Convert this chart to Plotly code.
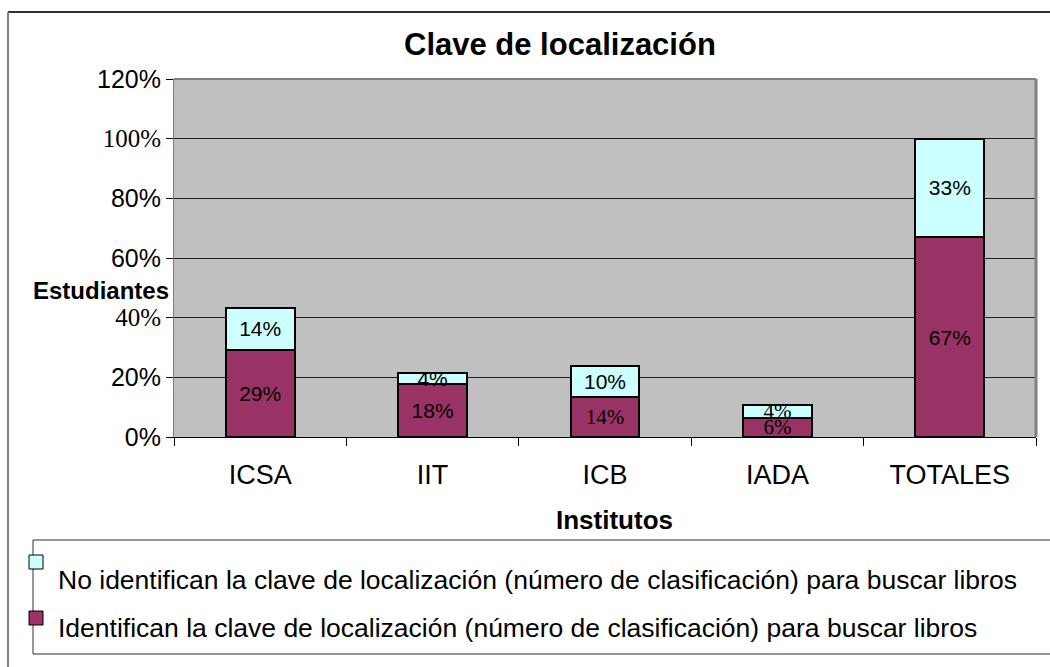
import plotly.graph_objects as go

# ---- data ----
categories = ["ICSA", "IIT", "ICB", "IADA", "TOTALES"]
series_names = [
    "No identifican la clave de localización (número de clasificación) para buscar libros",
    "Identifican la clave de localización (número de clasificación) para buscar libros",
]
identifican = [29.2, 17.9, 13.5, 6.4, 67.0]
no_identifican = [14.2, 3.6, 10.4, 4.3, 33.0]
identifican_labels = ["29%", "18%", "14%", "6%", "67%"]
no_identifican_labels = ["14%", "4%", "10%", "4%", "33%"]
y_tickvals = [0, 20, 40, 60, 80, 100, 120]
y_ticktext = ["0%", "20%", "40%", "60%", "80%", "100%", "120%"]
serif_ticks = ["40%", "100%"]
identifican_serif = [False, False, True, True, False]
no_identifican_serif = [False, False, False, True, False]

SANS = "Liberation Sans, Arial, sans-serif"
SERIF = "Liberation Serif, Times New Roman, serif"
MAROON = "#993366"
CYAN = "#CCFFFF"

W, H = 1050, 667
L, R, T, B = 174, 14, 79, 230
PW, PH = W - L - R, H - T - B


def px(xp):
    return (xp - L) / PW


def py(yp):
    return (H - B - yp) / PH


fig = go.Figure()
fig.add_trace(go.Bar(
    x=categories, y=identifican, name=series_names[1],
    marker=dict(color=MAROON, line=dict(color="black", width=2)),
    text=identifican_labels, textposition="inside", insidetextanchor="middle",
    constraintext="none",
    textfont=dict(color="black", size=21,
                  family=[SERIF if s else SANS for s in identifican_serif]),
    width=0.4, showlegend=False, hoverinfo="skip",
))
fig.add_trace(go.Bar(
    x=categories, y=no_identifican, name=series_names[0],
    marker=dict(color=CYAN, line=dict(color="black", width=2)),
    text=no_identifican_labels, textposition="inside", insidetextanchor="middle",
    constraintext="none",
    textfont=dict(color="black", size=21,
                  family=[SERIF if s else SANS for s in no_identifican_serif]),
    width=0.4, showlegend=False, hoverinfo="skip",
))

ticktext = [
    (f'<span style="font-family:Liberation Serif, Times New Roman, serif">{t}</span>'
     if t in serif_ticks else t)
    for t in y_ticktext
]

fig.update_layout(
    width=W, height=H,
    margin=dict(l=L, r=R, t=T, b=B, pad=0),
    barmode="stack",
    paper_bgcolor="white",
    plot_bgcolor="#C0C0C0",
    font=dict(family=SANS, color="black"),
    xaxis=dict(
        range=[-0.5, 4.5], showgrid=False, showline=True, linecolor="black", linewidth=1,
        ticks="outside", tickson="boundaries", ticklen=8, tickcolor="black",
        ticklabelstandoff=14,
        tickfont=dict(size=27, family=SANS), fixedrange=True,
    ),
    yaxis=dict(
        range=[0, 120], tickvals=y_tickvals, ticktext=ticktext,
        showgrid=True, gridcolor="#202020", gridwidth=1, zeroline=False,
        showline=True, linecolor="#808080", linewidth=1,
        ticks="outside", ticklen=7, tickcolor="black",
        tickfont=dict(size=25, family=SANS), fixedrange=True,
    ),
    shapes=[
        # plot-area top and right border
        dict(type="line", xref="paper", yref="paper", x0=0, x1=1, y0=1, y1=1,
             line=dict(color="#808080", width=2)),
        dict(type="line", xref="paper", yref="paper", x0=1, x1=1, y0=0, y1=1,
             line=dict(color="#808080", width=3)),
        # outer chart frame (top and left)
        dict(type="line", xref="paper", yref="paper", x0=px(8), x1=px(1050), y0=py(12), y1=py(12),
             line=dict(color="#303030", width=2)),
        dict(type="line", xref="paper", yref="paper", x0=px(8), x1=px(8), y0=py(12), y1=py(667),
             line=dict(color="#808080", width=2)),
        # legend box
        dict(type="line", xref="paper", yref="paper", x0=px(33), x1=px(1050), y0=py(540), y1=py(540),
             line=dict(color="#303030", width=1)),
        dict(type="line", xref="paper", yref="paper", x0=px(33), x1=px(1050), y0=py(654), y1=py(654),
             line=dict(color="#303030", width=1)),
        dict(type="line", xref="paper", yref="paper", x0=px(33), x1=px(33), y0=py(540), y1=py(654),
             line=dict(color="#303030", width=1)),
        # legend keys
        dict(type="rect", xref="paper", yref="paper", x0=px(29), x1=px(43), y0=py(555), y1=py(569),
             fillcolor=CYAN, line=dict(color="black", width=1)),
        dict(type="rect", xref="paper", yref="paper", x0=px(29), x1=px(43), y0=py(611), y1=py(625),
             fillcolor=MAROON, line=dict(color="black", width=1)),
    ],
    annotations=[
        dict(text="<b>Clave de localización</b>", xref="paper", yref="paper",
             x=px(560), y=py(44), xanchor="center", yanchor="middle", showarrow=False,
             font=dict(size=31, family=SANS)),
        dict(text="<b>Institutos</b>", xref="paper", yref="paper",
             x=px(614), y=py(520), xanchor="center", yanchor="middle", showarrow=False,
             font=dict(size=26, family=SANS)),
        dict(text="<b>Estudiantes</b>", xref="paper", yref="paper",
             x=px(171), y=py(290), xanchor="right", yanchor="middle", showarrow=False,
             font=dict(size=24, family=SANS)),
        dict(text=series_names[0], xref="paper", yref="paper",
             x=px(56), y=py(580), xanchor="left", yanchor="middle", showarrow=False,
             font=dict(size=26.5, family=SANS)),
        dict(text=series_names[1], xref="paper", yref="paper",
             x=px(56), y=py(628), xanchor="left", yanchor="middle", showarrow=False,
             font=dict(size=26.5, family=SANS)),
    ],
)

fig.write_html("out.html", config={"displayModeBar": False},
               post_script="document.body.style.margin='0px';")
